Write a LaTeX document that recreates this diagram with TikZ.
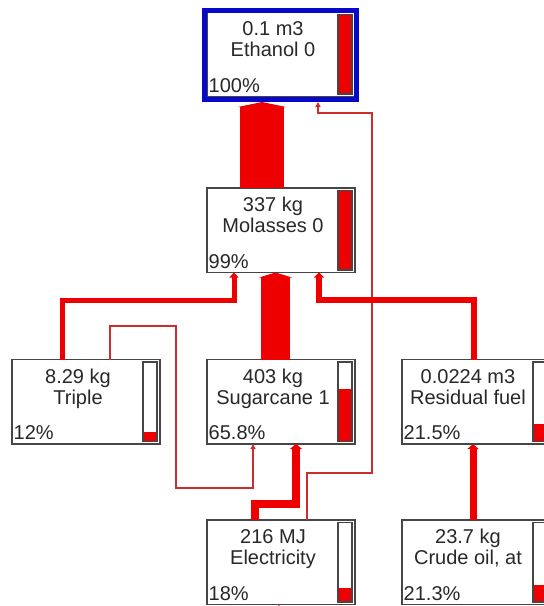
\documentclass[tikz,border=0pt]{standalone}
\usepackage{fontspec}
\setmainfont{Liberation Sans}
\usetikzlibrary{arrows.meta}
\definecolor{flow}{RGB}{238,0,0}
\definecolor{thinflow}{RGB}{205,45,45}
\definecolor{framegray}{RGB}{70,70,70}
\definecolor{txt}{RGB}{40,40,40}
\definecolor{ethblue}{RGB}{8,8,200}
\tikzset{
  pframe/.style={draw=framegray, line width=1.3pt, fill=white, minimum width=148pt, minimum height=84.5pt, inner sep=0pt, outer sep=0pt},
  ptext/.style={font=\fontsize{20pt}{24pt}\selectfont, text=txt, inner sep=0pt},
  pbar/.style={fill=white, minimum width=14pt, minimum height=79.5pt, inner sep=0pt, outer sep=0pt},
  barline/.style={draw=framegray, line width=1.1pt},
  conn/.style={draw=flow, line join=miter},
  thinconn/.style={draw=thinflow, line width=1.2pt, -{Triangle[width=5pt,length=5pt]}},
}
\newcommand\procbox[7]{%
  \node[pframe, anchor=north west] (#1) at (#2,#3) {};
  \node[ptext, anchor=base] (#1-q) at (#2+66,#3+23.5) {#4};
  \node[ptext, anchor=base] (#1-n) at (#2+66,#3+44.5) {#5};
  \node[ptext, anchor=base west] (#1-p) at (#2+1.5,#3+80) {#6};
  \node[pbar, anchor=north west] (#1-b) at (#2+131,#3+2.5) {};
  \fill[flow] (#2+131,#3+82) rectangle (#2+145,#3+82-79.5*#7);
  \draw[barline] (#1-b.south west) rectangle (#1-b.north east);
}
\begin{document}
\begin{tikzpicture}[x=1pt,y=-1pt]
\useasboundingbox (0,0) rectangle (544,606);
\clip (0,0) rectangle (544,606);
\fill[white] (0,0) rectangle (544,606);

\procbox{ethb}{207}{12}{0.1 m3}{Ethanol 0}{100\%}{1}
\procbox{mol}{207}{188}{337 kg}{Molasses 0}{99\%}{0.99}
\procbox{tri}{12}{359.5}{8.29 kg}{Triple}{12\%}{0.12}
\procbox{sug}{207}{359.5}{403 kg}{Sugarcane 1}{65.8\%}{0.658}
\procbox{res}{402}{359.5}{0.0224 m3}{Residual fuel}{21.5\%}{0.215}
\procbox{elec}{207}{520}{216 MJ}{Electricity}{18\%}{0.18}
\procbox{crude}{402}{520}{23.7 kg}{Crude oil, at}{21.3\%}{0.213}
\node[draw=ethblue, line width=5pt, minimum width=152pt, minimum height=89pt, inner sep=0pt, anchor=north west] (eth) at (202,8) {};

\coordinate (below) at (279,614);

% Molasses -> Ethanol
\draw[conn, line width=44pt, -{Triangle[width=48pt,length=5pt]}]
  ([xshift=55pt]mol.north west) -- ([xshift=60pt]eth.south west);
% Electricity -> Ethanol (thin)
\draw[thinconn] ([xshift=100pt]elec.north west) -- ++(0,-47) -- ++(65,0)
  -- ++(0,-360) -- ++(-54,0) -- ([xshift=116pt]eth.south west);
% Triple -> Molasses
\draw[conn, line width=5pt, -{Triangle[width=9pt,length=5pt]}]
  ([xshift=50pt]tri.north west) |- ([xshift=27pt,yshift=-27.5pt]mol.south west)
  -- ([xshift=27pt]mol.south west);
% Sugarcane -> Molasses
\draw[conn, line width=29pt, -{Triangle[width=33pt,length=5pt]}]
  ([xshift=68.5pt]sug.north west) -- ([xshift=68.5pt]mol.south west);
% Residual fuel -> Molasses
\draw[conn, line width=6pt, -{Triangle[width=10pt,length=5pt]}]
  ([xshift=72pt]res.north west) |- ([xshift=112pt,yshift=-27pt]mol.south west)
  -- ([xshift=112pt]mol.south west);
% Triple -> Sugarcane (thin)
\draw[thinconn] ([xshift=98pt]tri.north west) -- ++(0,-33.5) -- ++(66,0)
  -- ++(0,162) -| ([xshift=46pt]sug.south west);
% Electricity -> Sugarcane
\draw[conn, line width=8pt, -{Triangle[width=12pt,length=5pt]}]
  ([xshift=48pt]elec.north west) |- ([xshift=89pt,yshift=-60pt]sug.south west)
  -- ([xshift=89pt]sug.south west);
% Crude oil -> Residual fuel
\draw[conn, line width=7pt, -{Triangle[width=11pt,length=5pt]}]
  ([xshift=71pt]crude.north west) -- ([xshift=71pt]res.south west);
% input to Electricity from below
\draw[thinconn] (below) -- ([xshift=72pt]elec.south west);
\end{tikzpicture}
\end{document}
